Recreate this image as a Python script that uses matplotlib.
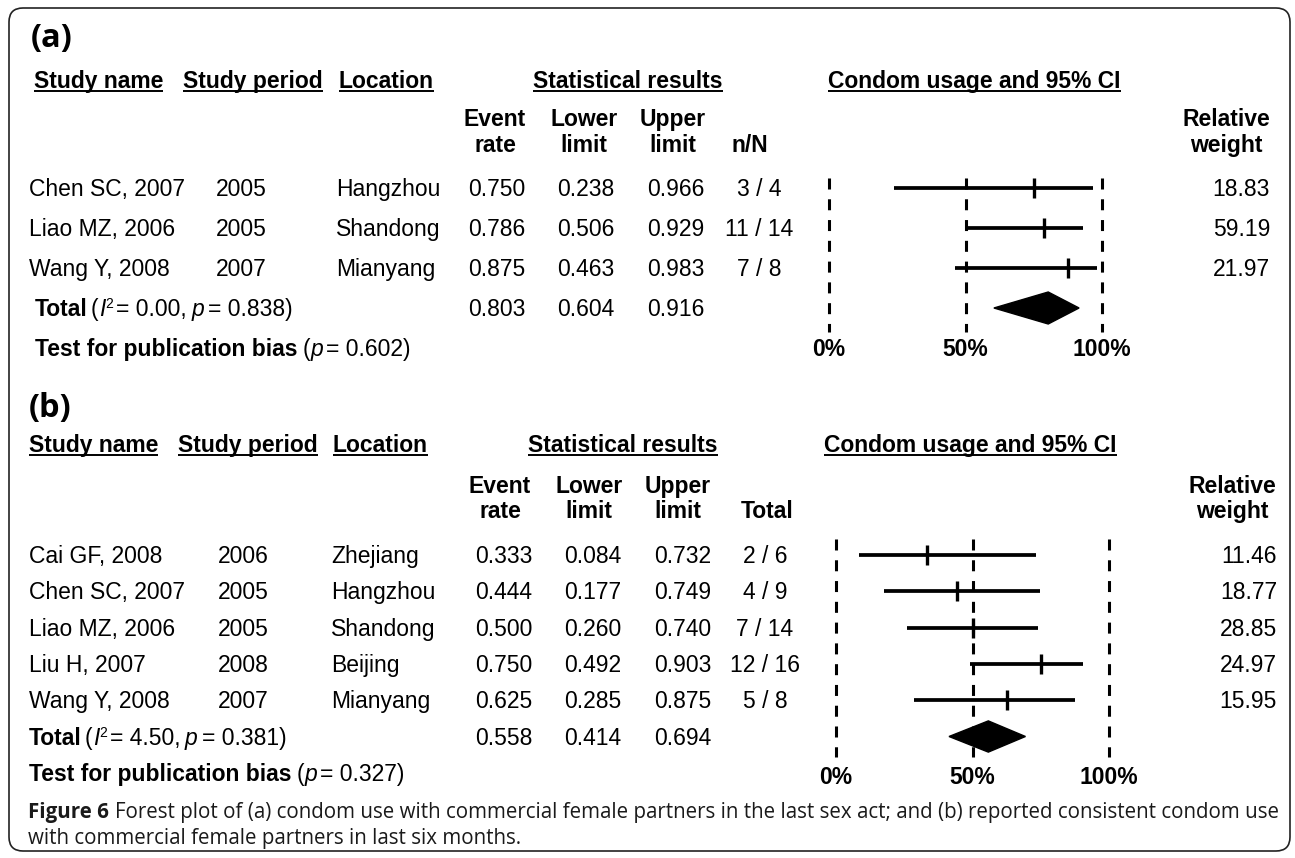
import matplotlib
matplotlib.use("Agg")
import matplotlib.pyplot as plt
from matplotlib.patches import FancyBboxPatch, Polygon
from matplotlib.transforms import blended_transform_factory, offset_copy

plt.rcParams['font.family'] = ['Liberation Sans', 'DejaVu Sans']

W, H = 1295, 858
FS = 16.5

# ---- panel (a): condom use in last sex act ----
a_study = ["Chen SC, 2007", "Liao MZ, 2006", "Wang Y, 2008"]
a_period = ["2005", "2005", "2007"]
a_location = ["Hangzhou", "Shandong", "Mianyang"]
a_rate = [0.750, 0.786, 0.875]
a_lower = [0.238, 0.506, 0.463]
a_upper = [0.966, 0.929, 0.983]
a_count = ["3 / 4", "11 / 14", "7 / 8"]
a_weight = [18.83, 59.19, 21.97]
a_total = [0.803, 0.604, 0.916]   # rate, lower, upper
a_i2, a_p, a_bias_p = 0.00, 0.838, 0.602

# ---- panel (b): consistent condom use, last six months ----
b_study = ["Cai GF, 2008", "Chen SC, 2007", "Liao MZ, 2006", "Liu H, 2007", "Wang Y, 2008"]
b_period = ["2006", "2005", "2005", "2008", "2007"]
b_location = ["Zhejiang", "Hangzhou", "Shandong", "Beijing", "Mianyang"]
b_rate = [0.333, 0.444, 0.500, 0.750, 0.625]
b_lower = [0.084, 0.177, 0.260, 0.492, 0.285]
b_upper = [0.732, 0.749, 0.740, 0.903, 0.875]
b_count = ["2 / 6", "4 / 9", "7 / 14", "12 / 16", "5 / 8"]
b_weight = [11.46, 18.77, 28.85, 24.97, 15.95]
b_total = [0.558, 0.414, 0.694]
b_i2, b_p, b_bias_p = 4.50, 0.381, 0.327

ref_x = [0.0, 0.5, 1.0]
ref_labels = ["0%", "50%", "100%"]

headers = ["Study name", "Study period", "Location", "Statistical results",
           "Condom usage and 95% CI"]

fig = plt.figure(figsize=(W / 100, H / 100), dpi=100)
bg = fig.add_axes([0, 0, 1, 1])
bg.set_xlim(0, W)
bg.set_ylim(H, 0)
bg.axis('off')

bg.add_patch(FancyBboxPatch((9, 8), 1281, 843, boxstyle="round,pad=0,rounding_size=14",
                            fill=False, ec='#222222', lw=1.2))

renderer = fig.canvas.get_renderer()
inv = bg.transData.inverted()


def px_extent(t):
    bb = t.get_window_extent(renderer)
    (x0, _), (x1, _) = inv.transform([[bb.x0, bb.y0], [bb.x1, bb.y1]])
    return x0, x1


def header(x, y, s):
    t = bg.text(x, y, s, fontsize=FS, fontweight='bold', va='baseline', ha='left')
    x0, x1 = px_extent(t)
    bg.plot([x0, x1], [y + 2.5, y + 2.5], color='k', lw=1.4, solid_capstyle='butt')


def rich(x, y, trans, pieces):
    for s, style, gap in pieces:
        kw = dict(fontsize=FS, va='baseline', ha='left')
        dy = 0
        if style == 'b':
            kw['fontweight'] = 'bold'
        elif style == 'i':
            kw['fontstyle'] = 'italic'
        elif style == 'sup':
            kw['fontsize'] = 10
            dy = 8
        t = bg.text(x, y, s, transform=offset_copy(trans, y=dy, units='dots'), **kw)
        x = px_extent(t)[1] + gap


def panel(tag, lay, study, period, location, rate, lower, upper, count, weight,
          total, i2, p, bias_p, count_hdr):
    k = len(study)
    nrows = k + 2
    row0, step = lay['row0'], lay['step']
    fx0, fx1 = lay['fx']
    top = row0 - 0.5 * step
    bot = row0 + (nrows - 0.5) * step
    ax = fig.add_axes([fx0 / W, 1 - bot / H, (fx1 - fx0) / W, (bot - top) / H])
    ax.set_xlim(0, 1)
    ax.set_ylim(nrows - 0.5, -0.5)
    ax.axis('off')

    # panel tag and headers
    bg.text(lay['tag_x'], lay['tag_y'], tag, fontsize=23.5, fontweight='bold',
            family=['Open Sans', 'DejaVu Sans'], va='center', ha='left')
    for hx, s in zip(lay['hdr_x'], headers):
        header(hx, lay['hdr_y'], s)
    y1, y2 = lay['sub_y']
    c = lay['sub_c']
    for cx, (l1, l2) in zip(c[:3], [("Event", "rate"), ("Lower", "limit"), ("Upper", "limit")]):
        bg.text(cx, y1, l1, fontsize=FS, fontweight='bold', ha='center', va='baseline')
        bg.text(cx, y2, l2, fontsize=FS, fontweight='bold', ha='center', va='baseline')
    bg.text(c[3], y2, count_hdr, fontsize=FS, fontweight='bold', ha='center', va='baseline')
    bg.text(c[4], y1, "Relative", fontsize=FS, fontweight='bold', ha='center', va='baseline')
    bg.text(c[4], y2, "weight", fontsize=FS, fontweight='bold', ha='center', va='baseline')

    # table rows, y through the forest axes row scale
    tr = offset_copy(blended_transform_factory(bg.transData, ax.transData), y=-8, units='dots')
    cx = lay['col']
    for i in range(k):
        kw = dict(transform=tr, fontsize=FS, va='baseline')
        bg.text(cx[0], i, study[i], ha='left', **kw)
        bg.text(cx[1], i, period[i], ha='left', **kw)
        bg.text(cx[2], i, location[i], ha='left', **kw)
        bg.text(cx[3], i, f"{rate[i]:.3f}", ha='center', **kw)
        bg.text(cx[4], i, f"{lower[i]:.3f}", ha='center', **kw)
        bg.text(cx[5], i, f"{upper[i]:.3f}", ha='center', **kw)
        bg.text(cx[6], i, count[i], ha='center', **kw)
        bg.text(cx[7], i, f"{weight[i]:.2f}", ha='right', **kw)
    for j, v in enumerate(total):
        bg.text(cx[3 + j], k, f"{v:.3f}", transform=tr, fontsize=FS, va='baseline', ha='center')
    rich(lay['tot_x'], k, tr, [("Total", 'b', 3), ("(", 'r', 0.5), ("I", 'i', 0.5),
                               ("2", 'sup', 2), (f"= {i2:.2f},", 'r', 5),
                               ("p", 'i', 4), (f"= {p:.3f})", 'r', 0)])
    rich(lay['tot_x'], k + 1, tr, [("Test for publication bias", 'b', 5), ("(", 'r', 0.5),
                                   ("p", 'i', 3), (f"= {bias_p:.3f})", 'r', 0)])

    # forest plot
    ax.vlines(ref_x, lay['dash'][0], lay['dash'][1], colors='k', lw=2.2,
              linestyles=[(0, (3.6, 3.2))], clip_on=False)
    for i in range(k):
        ax.hlines(i, lower[i], upper[i], colors='k', lw=2.7, clip_on=False)
        ax.plot(rate[i], i, marker='|', ms=15, mew=2.4, color='k', clip_on=False)
    h = lay['dh']
    ax.add_patch(Polygon([[total[1], k], [total[0], k - h], [total[2], k], [total[0], k + h]],
                         closed=True, fc='k', ec='k', lw=1, clip_on=False))
    for xv, lab in zip(ref_x, ref_labels):
        ax.text(xv, k + 1 + lay['lab_dy'], lab, fontsize=FS, fontweight='bold',
                ha='center', va='center')


lay_a = dict(row0=188, step=40, fx=(829, 1102), tag_x=31, tag_y=39,
             hdr_y=88, hdr_x=[34, 183, 339, 533, 828],
             sub_y=(126, 152), sub_c=[495, 584, 673, 750, 1226],
             col=[29, 216, 336, 497, 586, 676, 759, 1270],
             tot_x=35, dash=(-0.25, 3.6), dh=0.4, lab_dy=0.05)
lay_b = dict(row0=555, step=36.3, fx=(836, 1109), tag_x=29, tag_y=408,
             hdr_y=452, hdr_x=[29, 178, 333, 528, 824],
             sub_y=(493, 518), sub_c=[500, 589, 678, 767, 1232],
             col=[29, 218, 331, 504, 593, 683, 765, 1277],
             tot_x=29, dash=(-0.45, 5.56), dh=0.43, lab_dy=0.14)

panel("(a)", lay_a, a_study, a_period, a_location, a_rate, a_lower, a_upper, a_count,
      a_weight, a_total, a_i2, a_p, a_bias_p, "n/N")
panel("(b)", lay_b, b_study, b_period, b_location, b_rate, b_lower, b_upper, b_count,
      b_weight, b_total, b_i2, b_p, b_bias_p, "Total")

# caption, fitted to the box width
cap_bold = "Figure 6"
cap_line1 = ("Forest plot of (a) condom use with commercial female partners in the last sex act; "
             "and (b) reported consistent condom use")
cap_line2 = "with commercial female partners in last six months."
cap_fam = ['Open Sans', 'DejaVu Sans']
cap_col = '#1a1a1a'
cx0, cx1 = 28, 1275
fs = 12.0
t1 = bg.text(cx0, 818, cap_bold, fontsize=fs, fontweight='bold', family=cap_fam,
             va='baseline', color=cap_col)
gap = 5
t2 = bg.text(px_extent(t1)[1] + gap, 818, cap_line1, fontsize=fs, family=cap_fam,
             va='baseline', color=cap_col)
scale = (cx1 - cx0) / (px_extent(t2)[1] - cx0)
fs = fs * scale
t1.set_fontsize(fs)
t2.set_fontsize(fs)
t2.set_x(px_extent(t1)[1] + gap * scale)
bg.text(cx0, 844, cap_line2, fontsize=fs, family=cap_fam, va='baseline', color=cap_col)

fig.savefig("out.png", dpi=100)
